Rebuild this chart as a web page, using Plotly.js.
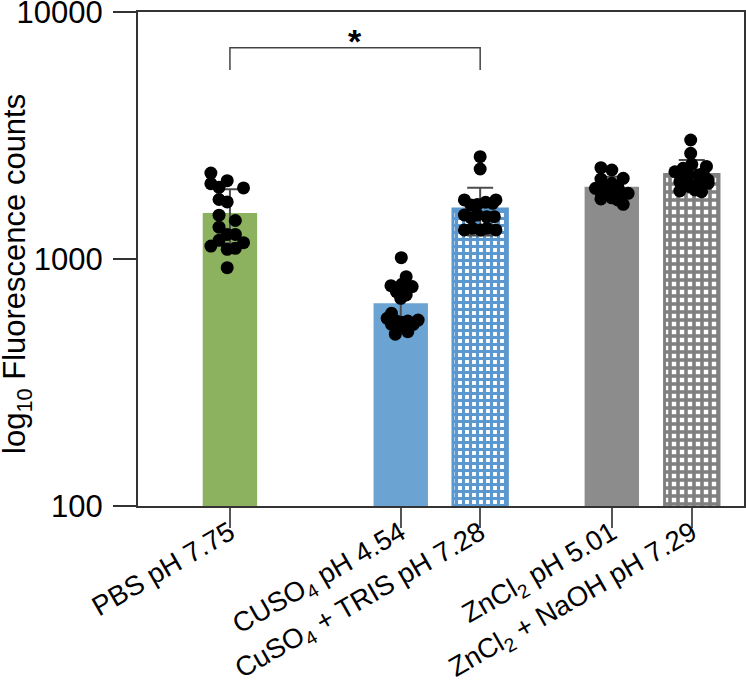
<!DOCTYPE html>
<html>
<head>
<meta charset="utf-8">
<script src="https://cdn.plot.ly/plotly-3.0.1.min.js"></script>
<style>html,body{margin:0;padding:0;background:#fff;}#chart{width:746px;height:685px;}</style>
</head>
<body>
<div id="chart"></div>
<script>
// ---- data ----
const categories = ["PBS pH 7.75", "CUSO<sub>4</sub> pH 4.54", "CuSO<sub>4</sub> + TRIS pH 7.28", "ZnCl<sub>2</sub> pH 5.01", "ZnCl<sub>2</sub> + NaOH pH 7.29"];
const positions = [0, 3.14, 4.6, 7.02, 8.49];
const means = [1536, 662, 1594, 1962, 2200];
const sds = [380, 137, 350, 190, 317];

const pbsPoints = [2228, 2019, 1951, 2076, 1939, 1741, 1702, 1504, 1432, 1346, 1258, 1258, 1190, 1128, 1094, 1105, 1164, 922];
const pbsJitter = [-0.35, -0.35, -0.2, -0.05, 0.25, -0.2, -0.05, -0.2, 0.1, -0.2, -0.05, 0.1, -0.2, -0.35, -0.05, 0.1, 0.25, -0.05];

const cuPoints = [1012, 848, 780, 790, 773, 737, 715, 693, 603, 575, 561, 544, 554, 561, 566, 544, 532, 508, 496];
const cuJitter = [0.01, 0.1, -0.18, 0.02, 0.21, -0.08, 0.1, 0.0, -0.17, -0.25, -0.08, -0.17, 0.02, 0.13, 0.32, 0.23, 0.02, 0.13, -0.1];

const trisPoints = [2596, 2314, 1734, 1654, 1664, 1697, 1734, 1681, 1507, 1470, 1507, 1484, 1484, 1311, 1331, 1311, 1331, 1311];
const trisJitter = [0.0, 0.0, -0.29, -0.17, -0.05, 0.1, 0.29, 0.23, -0.29, -0.17, -0.05, 0.12, 0.26, -0.29, -0.14, 0.01, 0.13, 0.29];

const znPoints = [2342, 2293, 2108, 2122, 2025, 1933, 1921, 1964, 1828, 1873, 1885, 1845, 1750, 1769, 1734, 1665];
const znJitter = [-0.2, 0.0, -0.2, 0.21, 0.0, -0.3, -0.1, 0.11, -0.19, 0.0, 0.14, 0.3, -0.2, 0.0, 0.11, 0.21];

const znnPoints = [3032, 2679, 2418, 2256, 2329, 2370, 2188, 2200, 2188, 2223, 2088, 2054, 2025, 2025, 2025, 1885, 1964, 1873, 1904];
const znnJitter = [-0.02, -0.02, 0.0, -0.31, -0.16, 0.27, -0.22, -0.07, 0.12, 0.21, 0.3, -0.22, -0.07, 0.12, 0.3, -0.22, -0.04, 0.18, 0.06];

const barColors = ["#8db25f", "#6ba4d3", "#5b98d0", "#8c8c8c", "#808080"];
const patterned = [false, false, true, false, true];
const patternSizes = [6, 6, 7, 6, 8];

const bracketPair = [0, 2];
const bracketLevel = 7170;
const bracketLeg = 5820;
const bracketLabel = "*";
const yTitle = "log<sub>10</sub> Fluorescence counts";

// ---- traces ----
const font = "Liberation Sans, Arial, Helvetica, sans-serif";
const traces = [];

traces.push({
  type: "bar",
  x: positions,
  y: means,
  width: 1.0,
  marker: {
    color: barColors,
    line: {color: barColors, width: patterned.map(p => p ? 3 : 0)},
    pattern: {
      shape: patterned.map(p => p ? "+" : ""),
      fgcolor: barColors,
      bgcolor: "#ffffff",
      fillmode: "replace",
      size: patternSizes,
      solidity: 0.7
    }
  },
  error_y: {type: "data", array: sds, visible: true, color: "#4d4d4d", thickness: 2, width: 13},
  hoverinfo: "skip"
});

const groups = [
  [pbsPoints, pbsJitter],
  [cuPoints, cuJitter],
  [trisPoints, trisJitter],
  [znPoints, znJitter],
  [znnPoints, znnJitter]
];
groups.forEach((g, i) => {
  traces.push({
    type: "scatter",
    mode: "markers",
    x: g[1].map(j => positions[i] + j),
    y: g[0],
    marker: {color: "#000000", size: 13, line: {width: 0}},
    hoverinfo: "skip"
  });
});

// bracket
const bx0 = positions[bracketPair[0]], bx1 = positions[bracketPair[1]];
traces.push({
  type: "scatter",
  mode: "lines",
  x: [bx0, bx0, bx1, bx1],
  y: [bracketLeg, bracketLevel, bracketLevel, bracketLeg],
  line: {color: "#444444", width: 1.5},
  hoverinfo: "skip"
});

const layout = {
  width: 746,
  height: 685,
  margin: {l: 138, r: 2, t: 12, b: 179},
  paper_bgcolor: "#ffffff",
  plot_bgcolor: "#ffffff",
  showlegend: false,
  font: {family: font, color: "#000000"},
  xaxis: {
    range: [-1.69, 9.45],
    tickvals: positions,
    ticktext: categories,
    tickangle: -30,
    ticks: "outside",
    ticklen: 20,
    tickwidth: 1.5,
    tickcolor: "#555555",
    showline: true,
    linecolor: "#333333",
    linewidth: 2,
    mirror: true,
    showgrid: false,
    zeroline: false,
    ticklabeloverflow: "allow",
    ticklabelstandoff: -22,
    tickfont: {family: font, size: 27.5, color: "#000000"}
  },
  yaxis: {
    type: "log",
    range: [2, 4],
    tickvals: [100, 1000, 10000],
    ticktext: ["100", "1000", "10000"],
    ticks: "outside",
    ticklen: 23,
    tickwidth: 1.5,
    tickcolor: "#333333",
    showline: true,
    linecolor: "#333333",
    linewidth: 2,
    mirror: true,
    showgrid: false,
    zeroline: false,
    ticklabeloverflow: "allow",
    ticklabelstandoff: 4,
    tickfont: {family: font, size: 31, color: "#000000"}
  },
  annotations: [{
    x: (bx0 + bx1) / 2,
    y: Math.log10(bracketLevel),
    xref: "x", yref: "y",
    text: "<b>" + bracketLabel + "</b>",
    showarrow: false,
    yanchor: "bottom",
    yshift: -14,
    font: {family: font, size: 34, color: "#000000"}
  }, {
    x: -0.1995, y: 0.47,
    xref: "paper", yref: "paper",
    text: yTitle,
    textangle: -90,
    showarrow: false,
    xanchor: "center", yanchor: "middle",
    font: {family: font, size: 31, color: "#000000"}
  }]
};

Plotly.newPlot("chart", traces, layout, {displayModeBar: false, staticPlot: true});
</script>
</body>
</html>
